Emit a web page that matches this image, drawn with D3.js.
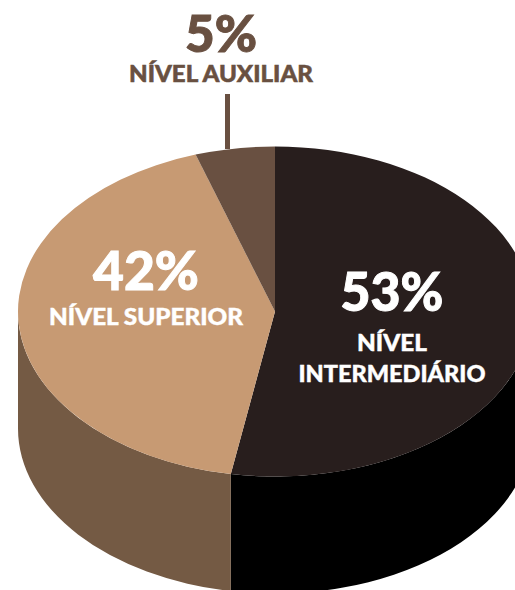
<!DOCTYPE html>
<html lang="pt">
<head>
<meta charset="UTF-8">
<title>Nível dos cargos</title>
<script src="https://cdnjs.cloudflare.com/ajax/libs/d3/7.8.5/d3.min.js"></script>
<style>
html, body { margin: 0; padding: 0; background: #fff; }
svg { display: block; }
text { font-family: Lato, "Open Sans", sans-serif; font-weight: 900; text-anchor: middle; }
</style>
</head>
<body>
<svg width="515" height="590"></svg>
<script>
var names = ["NÍVEL INTERMEDIÁRIO", "NÍVEL SUPERIOR", "NÍVEL AUXILIAR"];
var percents = [53, 42, 5];
// fatias como aparecem na figura, um pouco diferente do rotulo arredondado
var sliceValues = [52.75, 42.25, 5];
var topColors = ["#281e1d", "#c79a73", "#695041"];
var wallColors = ["#000000", "#745a44", "#5a4536"];

var cx = 275, cy = 311.5, rx = 257, ry = 165, depth = 117;
var svg = d3.select("svg");

var slices = d3.pie().sort(null).value(function(d) { return d; })(sliceValues);

function px(a) { return cx + rx * Math.sin(a); }
function py(a) { return cy - ry * Math.cos(a); }

// parede lateral, so a metade da frente aparece
var walls = svg.append("g");
slices.forEach(function(s, i) {
	var a0 = Math.max(s.startAngle, Math.PI / 2);
	var a1 = Math.min(s.endAngle, Math.PI * 3 / 2);
	if (a1 <= a0) return;
	var p = "M" + px(a0) + "," + py(a0) +
		"A" + rx + "," + ry + " 0 0 1 " + px(a1) + "," + py(a1) +
		"L" + px(a1) + "," + (py(a1) + depth) +
		"A" + rx + "," + ry + " 0 0 0 " + px(a0) + "," + (py(a0) + depth) + "Z";
	walls.append("path").attr("d", p).attr("fill", wallColors[i]);
});

// tampo: arco circular achatado em elipse
var arc = d3.arc().innerRadius(0).outerRadius(rx);
svg.append("g")
	.attr("transform", "translate(" + cx + "," + cy + ") scale(1," + (ry / rx) + ")")
	.selectAll("path").data(slices).enter().append("path")
	.attr("d", arc)
	.attr("fill", function(d, i) { return topColors[i]; });

// linha do nivel auxiliar
svg.append("line")
	.attr("x1", 227.5).attr("x2", 227.5).attr("y1", 94).attr("y2", 149)
	.attr("stroke", topColors[2]).attr("stroke-width", 5);

function label(x, y, txt, size, color, len, sw) {
	svg.append("text").attr("x", x).attr("y", y)
		.attr("font-size", size).attr("fill", color)
		.attr("stroke", color).attr("stroke-width", sw)
		.attr("textLength", len).attr("lengthAdjust", "spacingAndGlyphs")
		.text(txt);
}

label(221, 52, percents[2] + "%", 52, topColors[2], 72, 1);
label(221, 82, names[2], 22, topColors[2], 184, 0.5);

label(146, 290, percents[1] + "%", 54, "#fff", 106, 1);
label(146, 325, names[1], 22, "#fff", 194, 0.4);

label(392, 311, percents[0] + "%", 54, "#fff", 103, 1);
label(392, 351, "NÍVEL", 22, "#fff", 70, 0.4);
label(392, 382, "INTERMEDIÁRIO", 22, "#fff", 187, 0.4);
</script>
</body>
</html>
